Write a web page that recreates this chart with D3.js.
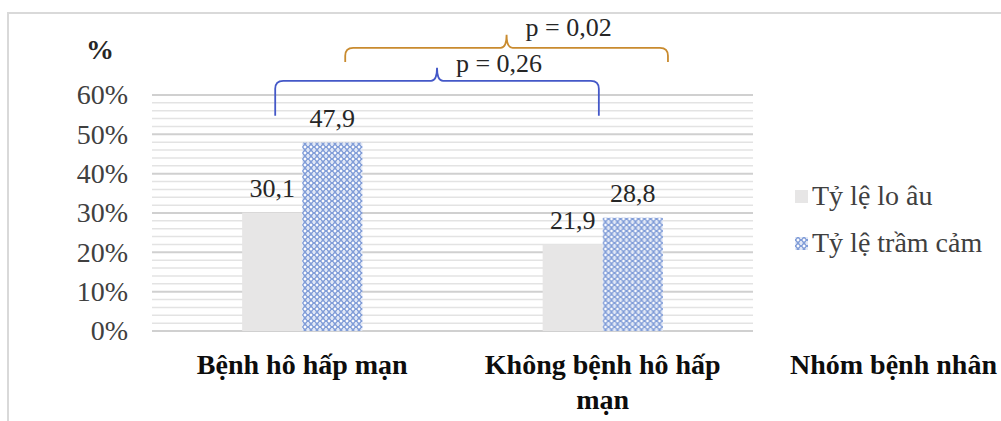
<!DOCTYPE html>
<html>
<head>
<meta charset="utf-8">
<script src="https://cdn.jsdelivr.net/npm/d3@7"></script>
<style>
  body { margin: 0; background: #fff; }
  svg { display: block; font-family: "Liberation Serif", "Times New Roman", serif; }
</style>
</head>
<body>
<div id="chart"></div>
<script>
// Data
const categories = ["Bệnh hô hấp mạn", "Không bệnh hô hấp mạn"];
const categoryLines = [["Bệnh hô hấp mạn"], ["Không bệnh hô hấp", "mạn"]];
const seriesNames = ["Tỷ lệ lo âu", "Tỷ lệ trầm cảm"];
const anxiety = [30.1, 21.9];
const depression = [47.9, 28.8];
const yTicks = [0, 10, 20, 30, 40, 50, 60];
const pLabels = ["p = 0,26", "p = 0,02"];

const width = 1001, height = 421;
const margin = { left: 152, right: 248, top: 95, bottom: 90 };

const svg = d3.select("#chart").append("svg")
    .attr("width", width)
    .attr("height", height);

// Pattern for the depression bars
const defs = svg.append("defs");
const pat = defs.append("pattern")
    .attr("id", "lattice")
    .attr("patternUnits", "userSpaceOnUse")
    .attr("width", 6)
    .attr("height", 6);
pat.append("rect").attr("width", 6).attr("height", 6).attr("fill", "#819dd8");
pat.append("path")
    .attr("d", "M3,1.3 L4.7,3 L3,4.7 L1.3,3 Z")
    .attr("fill", "#ffffff");
pat.append("path")
    .attr("d", "M0,1.7 L1.3,0 M4.7,0 L6,1.7 M0,4.3 L1.3,6 M4.7,6 L6,4.3")
    .attr("stroke", "#ffffff").attr("stroke-width", 1.1);

// Outer frame
svg.append("path")
    .attr("d", `M8,${height} L8,13 L${width},13`)
    .attr("fill", "none")
    .attr("stroke", "#d9d9d9")
    .attr("stroke-width", 2);

const x = d3.scaleBand()
    .domain(categories)
    .range([margin.left, width - margin.right])
    .paddingInner(0)
    .paddingOuter(0);

const xSub = d3.scaleBand()
    .domain(seriesNames)
    .range([0, x.bandwidth()])
    .paddingInner(0)
    .paddingOuter(1.5);

const y = d3.scaleLinear()
    .domain([0, 60])
    .range([height - margin.bottom, margin.top]);

// Gridlines: minor every 2%, major every 10%
const minor = d3.range(0, 61, 2).filter(v => v % 10 !== 0);
svg.append("g")
    .selectAll("line")
    .data(minor)
    .join("line")
    .attr("x1", margin.left).attr("x2", width - margin.right)
    .attr("y1", d => y(d)).attr("y2", d => y(d))
    .attr("stroke", "#e3e3e3")
    .attr("stroke-width", 1.5);
svg.append("g")
    .selectAll("line")
    .data(yTicks)
    .join("line")
    .attr("x1", margin.left).attr("x2", width - margin.right)
    .attr("y1", d => y(d)).attr("y2", d => y(d))
    .attr("stroke", "#d0d0d0")
    .attr("stroke-width", 2);

// Y axis labels
const yAxis = d3.axisLeft(y)
    .tickValues(yTicks)
    .tickSize(0)
    .tickPadding(24)
    .tickFormat(d => d + "%");
svg.append("g")
    .attr("transform", `translate(${margin.left},0)`)
    .call(yAxis)
    .call(g => g.select(".domain").remove())
    .call(g => g.selectAll("text")
        .attr("font-family", "Liberation Serif")
        .attr("font-size", 28)
        .attr("fill", "#404040"));

svg.append("text")
    .attr("x", 100)
    .attr("y", 59)
    .attr("text-anchor", "middle")
    .attr("font-size", 28)
    .attr("font-weight", "bold")
    .attr("fill", "#262626")
    .text("%");

// Bars
const rows = categories.map((c, i) => ({ cat: c, values: [
    { name: seriesNames[0], value: anxiety[i] },
    { name: seriesNames[1], value: depression[i] }
]}));

const groups = svg.append("g")
    .selectAll("g")
    .data(rows)
    .join("g")
    .attr("transform", d => `translate(${x(d.cat)},0)`);

groups.selectAll("rect")
    .data(d => d.values)
    .join("rect")
    .attr("x", d => xSub(d.name))
    .attr("width", xSub.bandwidth())
    .attr("y", d => y(d.value))
    .attr("height", d => y(0) - y(d.value))
    .attr("fill", (d, i) => i === 0 ? "#e7e6e6" : "url(#lattice)");

groups.selectAll("text.val")
    .data(d => d.values)
    .join("text")
    .attr("class", "val")
    .attr("x", d => xSub(d.name) + xSub.bandwidth() / 2)
    .attr("y", d => y(d.value) - 16)
    .attr("text-anchor", "middle")
    .attr("font-size", 26)
    .attr("fill", "#262626")
    .text(d => d3.format(".1f")(d.value).replace(".", ","));

// Category labels
categoryLines.forEach((lines, i) => {
    const t = svg.append("text")
        .attr("text-anchor", "middle")
        .attr("font-size", 28)
        .attr("font-weight", "bold")
        .attr("fill", "#0d0d0d");
    lines.forEach((line, j) => {
        t.append("tspan")
            .attr("x", x(categories[i]) + x.bandwidth() / 2)
            .attr("y", 374 + j * 35)
            .text(line);
    });
});

svg.append("text")
    .attr("x", 790)
    .attr("y", 374)
    .attr("font-size", 28)
    .attr("font-weight", "bold")
    .attr("fill", "#0d0d0d")
    .text("Nhóm bệnh nhân");

// Legend
const legend = svg.append("g")
    .selectAll("g")
    .data(seriesNames)
    .join("g")
    .attr("transform", (d, i) => `translate(795,${196 + i * 47})`);
legend.append("rect")
    .attr("x", 0).attr("y", -6)
    .attr("width", 13).attr("height", 13)
    .attr("fill", (d, i) => i === 0 ? "#e7e6e6" : "url(#lattice)");
legend.append("text")
    .attr("x", 17)
    .attr("y", 9)
    .attr("font-size", 28)
    .attr("fill", "#404040")
    .text(d => d);

// Comparison braces
const braces = [
    { from: [0, 0.41], to: [1, 0.487], level: 63.6, drop: 8.9, color: "#4458c8", label: pLabels[0], lift: 9 },
    { from: [0, 0.643], to: [1, 0.717], level: 72, drop: 3.6, color: "#c98b2f", label: pLabels[1], lift: 12 }
];

function bracePath(x0, x1, yh, yEnd) {
    const r = 8, mid = (x0 + x1) / 2, tip = 13;
    return `M${x0},${yEnd} L${x0},${yh + r} Q${x0},${yh} ${x0 + r},${yh}`
        + ` L${mid - 6},${yh} Q${mid},${yh} ${mid},${yh - tip}`
        + ` Q${mid},${yh} ${mid + 6},${yh}`
        + ` L${x1 - r},${yh} Q${x1},${yh} ${x1},${yh + r} L${x1},${yEnd}`;
}

braces.forEach(b => {
    const x0 = x(categories[b.from[0]]) + x.bandwidth() * b.from[1];
    const x1 = x(categories[b.to[0]]) + x.bandwidth() * b.to[1];
    const yh = y(b.level), yEnd = y(b.level - b.drop);
    svg.append("path")
        .attr("d", bracePath(x0, x1, yh, yEnd))
        .attr("fill", "none")
        .attr("stroke", b.color)
        .attr("stroke-width", 1.8);
    svg.append("text")
        .attr("x", (x0 + x1) / 2 + 62)
        .attr("y", yh - b.lift)
        .attr("text-anchor", "middle")
        .attr("font-size", 26)
        .attr("fill", "#262626")
        .text(b.label);
});
</script>
</body>
</html>
